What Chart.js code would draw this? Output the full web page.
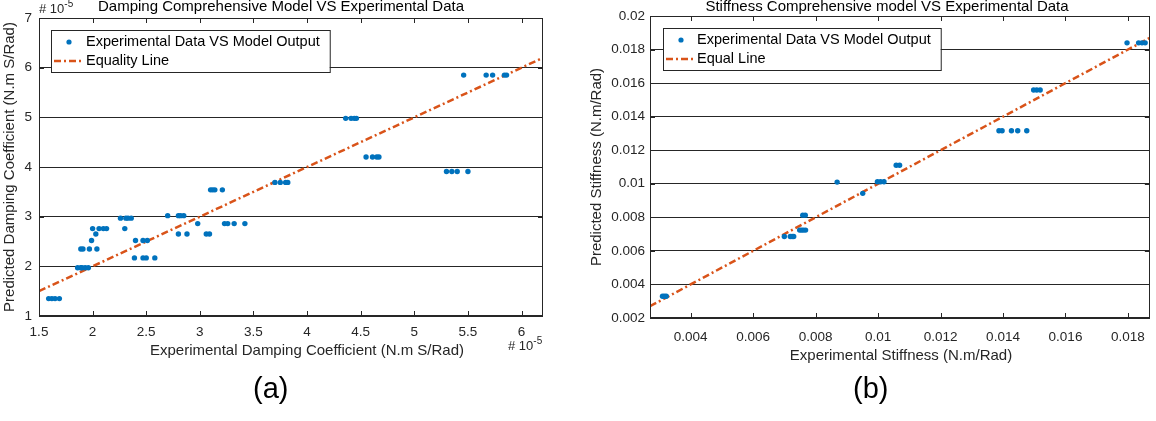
<!DOCTYPE html>
<html>
<head>
<meta charset="utf-8">
<script src="https://cdn.jsdelivr.net/npm/chart.js@4.4.0/dist/chart.umd.min.js"></script>
<style>
  body { margin: 0; background: #fff; width: 1156px; height: 421px; overflow: hidden; position: relative; font-family: "Liberation Sans", Arial, sans-serif; }
  .box { position: absolute; top: 0; width: 578px; height: 421px; }
  .tag { position: absolute; top: 374px; font-size: 29px; line-height: 29px; color: #000; }
</style>
</head>
<body>
<div class="box" style="left:0"><canvas id="damping" width="578" height="421"></canvas></div>
<div class="box" style="left:578px"><canvas id="stiffness" width="578" height="421"></canvas></div>
<div class="tag" style="left:253px">(a)</div>
<div class="tag" style="left:853px">(b)</div>
<script>
// damping, in units of 1e-5 N.m S/Rad
const dampExp = [1.59, 1.62, 1.65, 1.69,
  1.86, 1.89, 1.90, 1.93, 1.96,
  1.89, 1.91, 1.97, 2.04,
  1.99, 2.03,
  2.00, 2.06, 2.10, 2.13,
  2.26, 2.31, 2.33, 2.36, 2.30,
  2.40, 2.47, 2.51,
  2.39, 2.47, 2.50, 2.58,
  2.70, 2.80, 2.82, 2.85,
  2.80, 2.88, 2.98, 3.06, 3.09,
  3.10, 3.12, 3.14, 3.21,
  3.23, 3.26, 3.32, 3.42,
  3.70, 3.75, 3.80, 3.82,
  4.36, 4.41, 4.44, 4.46,
  4.55, 4.61, 4.65, 4.67,
  5.30, 5.35, 5.40, 5.50,
  5.46, 5.67, 5.73, 5.84, 5.86];
const dampModel = [1.35, 1.35, 1.35, 1.35,
  1.97, 1.97, 1.97, 1.97, 1.97,
  2.35, 2.35, 2.35, 2.35,
  2.52, 2.65,
  2.76, 2.76, 2.76, 2.76,
  2.97, 2.97, 2.97, 2.97, 2.76,
  2.52, 2.52, 2.52,
  2.17, 2.17, 2.17, 2.17,
  3.02, 3.02, 3.02, 3.02,
  2.65, 2.65, 2.86, 2.65, 2.65,
  3.54, 3.54, 3.54, 3.54,
  2.86, 2.86, 2.86, 2.86,
  3.69, 3.69, 3.69, 3.69,
  4.98, 4.98, 4.98, 4.98,
  4.20, 4.20, 4.20, 4.20,
  3.91, 3.91, 3.91, 3.91,
  5.85, 5.85, 5.85, 5.85, 5.85];
const dampLine = [1.5, 6.2];
const dampXTicks = [1.5, 2, 2.5, 3, 3.5, 4, 4.5, 5, 5.5, 6];
const dampYTicks = [1, 2, 3, 4, 5, 6, 7];

// stiffness, N.m/Rad
const stiffExp = [0.0031, 0.00316, 0.00322,
  0.0070, 0.00719, 0.00725, 0.0073,
  0.00749, 0.00755, 0.00761, 0.00768,
  0.00759, 0.00767,
  0.00869, 0.00951,
  0.00998, 0.01008, 0.01019,
  0.01058, 0.01069,
  0.01387, 0.01397, 0.01427, 0.01447, 0.01476,
  0.01498, 0.01508, 0.01519,
  0.01797, 0.01834, 0.01845, 0.01855];
const stiffModel = [0.0033, 0.0033, 0.0033,
  0.00686, 0.00686, 0.00686, 0.00686,
  0.00724, 0.00724, 0.00724, 0.00724,
  0.00813, 0.00813,
  0.0101, 0.00943,
  0.01012, 0.01012, 0.01012,
  0.0111, 0.0111,
  0.01316, 0.01316, 0.01316, 0.01316, 0.01316,
  0.01559, 0.01559, 0.01559,
  0.0184, 0.0184, 0.0184, 0.0184];
const stiffLine = [0.0027, 0.0187];
const stiffXTicks = [0.004, 0.006, 0.008, 0.01, 0.012, 0.014, 0.016, 0.018];
const stiffYTicks = [0.002, 0.004, 0.006, 0.008, 0.01, 0.012, 0.014, 0.016, 0.018, 0.02];

const blue = '#0072BD';
const orange = '#D95319';
const ink = '#262626';
const FONT = '"Liberation Sans", Arial, sans-serif';
const DASH = [7, 3, 2, 3];

function pts(xs, ys) {
  return xs.map((v, i) => ({x: v, y: ys[i]}));
}

function times10(ctx, x, y) {
  ctx.textAlign = 'left';
  ctx.font = '13px ' + FONT;
  ctx.fillText('# 10', x, y);
  const w = ctx.measureText('# 10').width;
  ctx.font = '10px ' + FONT;
  ctx.fillText('-5', x + w, y - 6);
}

const decor = {
  id: 'decor',
  afterDraw(chart, args, o) {
    const {ctx, chartArea: a, scales} = chart;
    ctx.save();

    // inward ticks and box
    ctx.strokeStyle = ink;
    ctx.lineWidth = 1;
    ctx.beginPath();
    scales.x.ticks.forEach(t => {
      const p = Math.round(scales.x.getPixelForValue(t.value)) + 0.5;
      ctx.moveTo(p, a.bottom); ctx.lineTo(p, a.bottom - 5);
      ctx.moveTo(p, a.top); ctx.lineTo(p, a.top + 5);
    });
    scales.y.ticks.forEach(t => {
      const p = Math.round(scales.y.getPixelForValue(t.value)) + 0.5;
      ctx.moveTo(a.right, p); ctx.lineTo(a.right - 5, p);
      ctx.moveTo(a.left, p); ctx.lineTo(a.left + 5, p);
    });
    ctx.stroke();
    ctx.strokeRect(Math.round(a.left) + 0.5, Math.round(a.top) + 0.5,
      Math.round(a.right - a.left) - 1, Math.round(a.bottom - a.top) - 1);

    // legend
    const L = o.legend;
    const labels = chart.data.datasets.map(d => d.label);
    ctx.font = '14.5px ' + FONT;
    const w = Math.max(...labels.map(s => ctx.measureText(s).width)) + L.textX + 10;
    ctx.fillStyle = '#fff';
    ctx.fillRect(L.x, L.y, w, L.h);
    ctx.strokeStyle = ink;
    ctx.strokeRect(L.x + 0.5, L.y + 0.5, w, L.h);
    ctx.fillStyle = blue;
    ctx.beginPath();
    ctx.arc(L.x + 18, L.y + 12, 2.6, 0, Math.PI * 2);
    ctx.fill();
    ctx.strokeStyle = orange;
    ctx.lineWidth = 2.5;
    ctx.setLineDash(DASH);
    ctx.beginPath();
    ctx.moveTo(L.x + 3, L.y + 31); ctx.lineTo(L.x + 31, L.y + 31);
    ctx.stroke();
    ctx.setLineDash([]);
    ctx.fillStyle = '#000';
    ctx.textBaseline = 'middle';
    ctx.textAlign = 'left';
    ctx.fillText(labels[0], L.x + L.textX, L.y + 12);
    ctx.fillText(labels[1], L.x + L.textX, L.y + 31);

    // titles
    ctx.textBaseline = 'alphabetic';
    ctx.textAlign = 'center';
    ctx.font = '15px ' + FONT;
    ctx.fillStyle = '#000';
    ctx.fillText(o.title, o.titleX, 11);
    ctx.fillStyle = ink;
    ctx.fillText(o.xTitle, o.xTitleX, o.xTitleY);
    ctx.save();
    ctx.translate(o.yTitleX, o.yTitleY);
    ctx.rotate(-Math.PI / 2);
    ctx.textBaseline = 'middle';
    ctx.fillText(o.yTitle, 0, 0);
    ctx.restore();

    if (o.exp) {
      ctx.fillStyle = ink;
      o.exp.forEach(p => times10(ctx, p[0], p[1]));
    }
    ctx.restore();
  }
};

function makeChart(id, c) {
  const tickFont = {family: FONT, size: 13.5};
  const fmt = v => String(+v.toFixed(4));
  return new Chart(document.getElementById(id), {
    type: 'scatter',
    data: {
      datasets: [
        {
          label: 'Experimental Data VS Model Output',
          data: pts(c.xs, c.ys),
          backgroundColor: blue,
          borderWidth: 0,
          pointRadius: 2.7,
          pointHoverRadius: 2.7
        },
        {
          type: 'line',
          label: c.lineLabel,
          data: pts(c.line, c.line),
          borderColor: orange,
          borderWidth: 2.5,
          borderDash: DASH,
          pointRadius: 0,
          fill: false,
          showLine: true
        }
      ]
    },
    options: {
      responsive: false,
      animation: false,
      events: [],
      layout: {padding: c.pad},
      plugins: {
        legend: {display: false},
        tooltip: {enabled: false},
        decor: c.decor
      },
      scales: {
        x: {
          type: 'linear',
          min: c.xMin, max: c.xMax,
          grid: {display: false, drawTicks: false},
          border: {display: false},
          ticks: {font: tickFont, color: ink, padding: c.xPad, maxRotation: 0, autoSkip: false, callback: fmt},
          afterBuildTicks: s => { s.ticks = c.xTicks.map(v => ({value: v})); },
          afterFit: s => { s.height = 30; }
        },
        y: {
          type: 'linear',
          min: c.yMin, max: c.yMax,
          grid: {color: ink, lineWidth: 1, drawTicks: false},
          border: {display: false},
          ticks: {font: tickFont, color: ink, padding: c.yPad, autoSkip: false, callback: fmt},
          afterBuildTicks: s => { s.ticks = c.yTicks.map(v => ({value: v})); },
          afterFit: s => { s.width = c.yWidth; }
        }
      }
    },
    plugins: [decor]
  });
}

makeChart('damping', {
  xs: dampExp, ys: dampModel, line: dampLine,
  xTicks: dampXTicks, yTicks: dampYTicks,
  lineLabel: 'Equality Line',
  xMin: 1.5, xMax: 6.2,
  yMin: 1, yMax: 7,
  yWidth: 39, yPad: 7, xPad: 8,
  pad: {left: 0, top: 18, right: 35, bottom: 75},
  decor: {
    legend: {x: 51, y: 30, h: 42, textX: 35},
    title: 'Damping Comprehensive Model VS Experimental Data', titleX: 281,
    xTitle: 'Experimental Damping Coefficient (N.m S/Rad)', xTitleX: 307, xTitleY: 355,
    yTitle: 'Predicted Damping Coefficient (N.m S/Rad)', yTitleX: 10, yTitleY: 167,
    exp: [[39, 13], [508, 350]]
  }
});

makeChart('stiffness', {
  xs: stiffExp, ys: stiffModel, line: stiffLine,
  xTicks: stiffXTicks, yTicks: stiffYTicks,
  lineLabel: 'Equal Line',
  xMin: 0.0027, xMax: 0.0187,
  yMin: 0.002, yMax: 0.02,
  yWidth: 72, yPad: 5, xPad: 11,
  pad: {left: 0, top: 16, right: 3, bottom: 73},
  decor: {
    legend: {x: 85, y: 28, h: 42, textX: 34},
    title: 'Stiffness Comprehensive model VS Experimental Data', titleX: 309,
    xTitle: 'Experimental Stiffness (N.m/Rad)', xTitleX: 323, xTitleY: 360,
    yTitle: 'Predicted Stiffness (N.m/Rad)', yTitleX: 19, yTitleY: 167
  }
});
</script>
</body>
</html>
